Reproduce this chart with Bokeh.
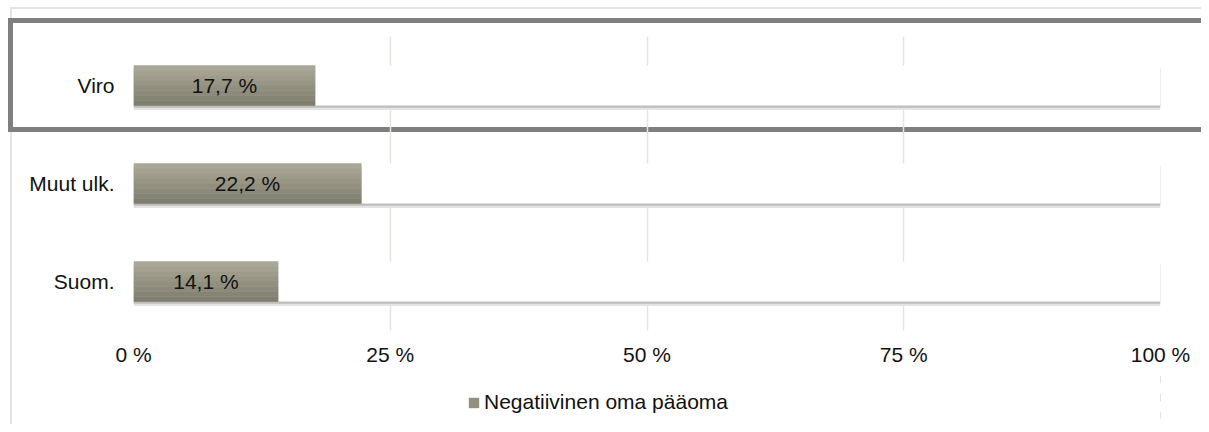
from bokeh.plotting import figure
from bokeh.layouts import column
from bokeh.models import (FactorRange, Range1d, Legend, LegendItem,
                          ColumnDataSource, FixedTicker)
from bokeh.transform import dodge
from bokeh.core.properties import value
from bokeh.embed import file_html
from bokeh.resources import INLINE

# ---- data ----
categories = ["Suom.", "Muut ulk.", "Viro"]
values = [14.1, 22.2, 17.7]
value_labels = ["14,1 %", "22,2 %", "17,7 %"]
tick_values = [0, 25, 50, 75, 100]
tick_labels = ["0 %", "25 %", "50 %", "75 %", "100 %"]
series_name = "Negatiivinen oma pääoma"
totals = [100, 100, 100]

# ---- style ----
FONT = "Liberation Sans"
FS = "21px"
TXT = "#111111"
BAR_H = 0.41
stripe_colors = ["#aaa797", "#a4a191", "#9e9b8b", "#989585", "#928f7f",
                 "#8c8a7a", "#868474", "#807e6f"]

src = ColumnDataSource(dict(
    cat=categories, val=values, lab=value_labels,
    mid=[v / 2 for v in values], full=totals,
    shadow_right=[t + 0.25 for t in totals],
))

DARK = "linear-gradient(#7f7f7f,#7f7f7f)"
LIGHT = "linear-gradient(#e4e4de,#e4e4de)"
bg_main = [
    f"{DARK} 8px 18px / 1300px 5px no-repeat",
    f"{DARK} 8px 127px / 1300px 5px no-repeat",
    f"{DARK} 8px 18px / 5px 114px no-repeat",
    f"{LIGHT} 10px 7px / 1300px 2px no-repeat",
    f"{LIGHT} 10px 7px / 2px 600px no-repeat",
    "#ffffff",
]
bg_leg = [f"{LIGHT} 10px 0px / 2px 600px no-repeat", "#ffffff"]

p = figure(width=1201, height=370,
           y_range=FactorRange(factors=categories, range_padding=0),
           x_range=Range1d(0, 100),
           output_backend="svg", toolbar_location=None,
           min_border_left=133, min_border_right=41,
           min_border_top=36, min_border_bottom=40)
p.styles = {"background": ", ".join(bg_main)}
p.outline_line_color = None
p.background_fill_alpha = 0
p.border_fill_alpha = 0

# grid
p.ygrid.grid_line_color = None
p.xgrid.grid_line_color = "#e4e4dc"
p.xgrid.grid_line_width = 1.5
p.xaxis.ticker = FixedTicker(ticks=tick_values)
p.xaxis.major_label_overrides = {t: l for t, l in zip(tick_values, tick_labels)}

for ax in (p.xaxis, p.yaxis):
    ax.axis_line_color = None
    ax.major_tick_line_color = None
    ax.minor_tick_line_color = None
    ax.major_label_text_font = FONT
    ax.major_label_text_font_size = FS
    ax.major_label_text_color = TXT
p.yaxis.major_label_standoff = 13
p.xaxis.major_label_standoff = 6

# shadows
p.hbar(y=dodge("cat", -0.045, range=p.y_range), left=0, right="shadow_right",
       height=BAR_H, source=src, fill_color="#e4e4e4", line_color=None)
p.hbar(y=dodge("cat", -0.022, range=p.y_range), left=0, right="shadow_right",
       height=BAR_H, source=src, fill_color="#bdbdbd", line_color=None)

# white remainder
p.hbar(y="cat", left="val", right="full", height=BAR_H, source=src,
       fill_color="white", line_color=None)

# gray bar with vertical gradient (stripes)
n = len(stripe_colors)
sh = BAR_H / n
for i, c in enumerate(stripe_colors):
    off = BAR_H / 2 - (i + 0.5) * sh
    p.hbar(y=dodge("cat", off, range=p.y_range), left=0, right="val",
           height=sh + 0.003, source=src, fill_color=c, line_color=None)

# value labels
p.text(x="mid", y="cat", text="lab", source=src, text_align="center",
       text_baseline="middle", text_font=value(FONT), text_font_size=FS,
       text_color=TXT)

# ---- legend strip ----
p2 = figure(width=1201, height=54,
            y_range=FactorRange(factors=categories, range_padding=0),
            x_range=Range1d(-300, -200),
            x_axis_type=None, y_axis_type=None,
            output_backend="svg", toolbar_location=None,
            min_border_left=0, min_border_right=0,
            min_border_top=0, min_border_bottom=0)
p2.styles = {"background": ", ".join(bg_leg)}
p2.outline_line_color = None
p2.background_fill_alpha = 0
p2.border_fill_alpha = 0
p2.grid.visible = False
leg_r = p2.hbar(y="cat", left=0, right="val", height=BAR_H, source=src,
                fill_color=stripe_colors[n // 2], line_color=None)

legend = Legend(items=[LegendItem(label=series_name, renderers=[leg_r])],
                location=(334, 10), orientation="horizontal",
                glyph_width=13, glyph_height=13, label_standoff=4,
                padding=0, margin=0, border_line_color=None,
                background_fill_alpha=0, label_text_font=FONT,
                label_text_font_size=FS, label_text_color=TXT, label_height=13)
p2.add_layout(legend)

layout = column(p, p2, spacing=0)
open("out.html", "w").write(file_html(layout, INLINE))
